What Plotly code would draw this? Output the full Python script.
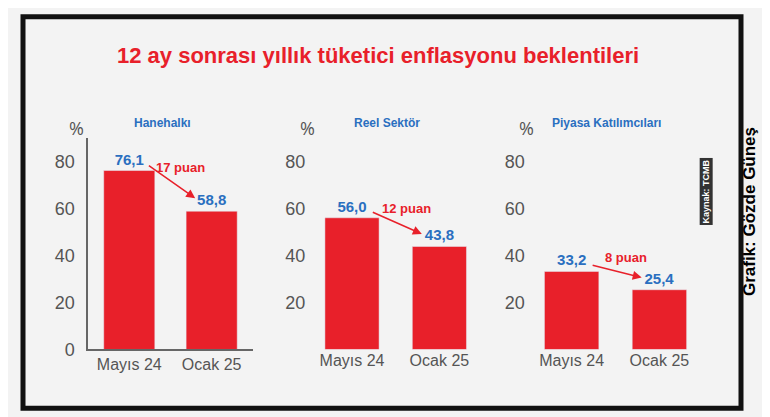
import plotly.graph_objects as go

title = "12 ay sonrası yıllık tüketici enflasyonu beklentileri"
panels = ["Hanehalkı", "Reel Sektör", "Piyasa Katılımcıları"]
periods = ["Mayıs 24", "Ocak 25"]
values = [[76.1, 58.8], [56.0, 43.8], [33.2, 25.4]]
diffs = ["17 puan", "12 puan", "8 puan"]
yticks = [[0, 20, 40, 60, 80], [20, 40, 60, 80], [20, 40, 60, 80]]

W, H = 770, 417
doms = [[0.104, 0.318], [0.39, 0.617], [0.675, 0.903]]
ydom = [0.161, 0.681]
RED = "#e8202a"; BLUE = "#2a6fc0"; GREY = "#555"

fig = go.Figure()
for i in range(3):
    xa = "x" if i == 0 else f"x{i+1}"
    ya = "y" if i == 0 else f"y{i+1}"
    fig.add_trace(go.Bar(x=periods, y=values[i], xaxis=xa, yaxis=ya, marker_color=RED,
                         width=0.62, text=[f"<b>{v:.1f}</b>".replace(".", ",") for v in values[i]],
                         textposition="outside", cliponaxis=False,
                         textfont=dict(color=BLUE, size=15, family="Liberation Sans"),
                         showlegend=False))
    k = "" if i == 0 else str(i + 1)
    fig.layout["xaxis" + k] = dict(domain=doms[i], anchor=ya, showgrid=False,
                                   showline=(i == 0), linecolor="#666", linewidth=1.5,
                                   tickfont=dict(size=16, color=GREY, family="Liberation Sans"),
                                   ticks="")
    fig.layout["yaxis" + k] = dict(domain=ydom, anchor=xa, range=[0, 90], showgrid=False,
                                   zeroline=False, showline=(i == 0), linecolor="#666", linewidth=1.5,
                                   tickvals=yticks[i], ticks="",
                                   tickfont=dict(size=18, color=GREY, family="Liberation Sans"),
                                   ticklabelstandoff=8 if i == 0 else 2)
    fig.add_annotation(xref=xa + " domain", yref="paper", x=-0.13 if i == 0 else -0.06, y=0.74,
                       text="%", showarrow=False, font=dict(size=18, color=GREY))
    fig.add_annotation(xref=xa + " domain", yref="paper", x=0.45, y=0.74,
                       text=f"<b>{panels[i]}</b>", showarrow=False,
                       font=dict(size=12, color=BLUE, family="Liberation Sans"))
    v1, v2 = values[i]
    fig.add_annotation(xref=xa, yref=ya, x=0.82, y=v2 + 5, ax=0.2, ay=v1 + 3,
                       axref=xa, ayref=ya, showarrow=True, arrowhead=2, arrowsize=1.2,
                       arrowwidth=1.5, arrowcolor=RED, standoff=2, startstandoff=2, text="")
    fig.add_annotation(xref=xa, yref=ya, x=0.62, y=(v1 + v2) / 2 + 10,
                       text=f"<b>{diffs[i]}</b>", showarrow=False,
                       font=dict(size=13, color=RED, family="Liberation Sans"))

fig.add_annotation(xref="paper", yref="paper", x=0.48, y=0.92, text=f"<b>{title}</b>",
                   showarrow=False, font=dict(size=22, color=RED, family="Liberation Sans"))
fig.add_annotation(xref="paper", yref="paper", x=0.978, y=0.5, text="<b>Grafik: Gözde Güneş</b>",
                   textangle=-90, showarrow=False, font=dict(size=17, color="black", family="Liberation Sans"))
fig.add_annotation(xref="paper", yref="paper", x=0.916, y=0.55, text="<b>Kaynak: TCMB</b>",
                   textangle=-90, showarrow=False, bgcolor="#333",
                   font=dict(size=9, color="white", family="Liberation Sans"))

fig.add_shape(type="rect", xref="paper", yref="paper", x0=15 / W, x1=733 / W,
              y0=1 - 410 / H, y1=1 - 9 / H, line=dict(color="#111", width=5),
              fillcolor="rgba(0,0,0,0)", layer="below")

fig.update_layout(width=W, height=H, margin=dict(l=0, r=0, t=0, b=0),
                  paper_bgcolor="#f3f3f3", plot_bgcolor="rgba(0,0,0,0)", bargap=0.3)
fig.write_html("out.html")
